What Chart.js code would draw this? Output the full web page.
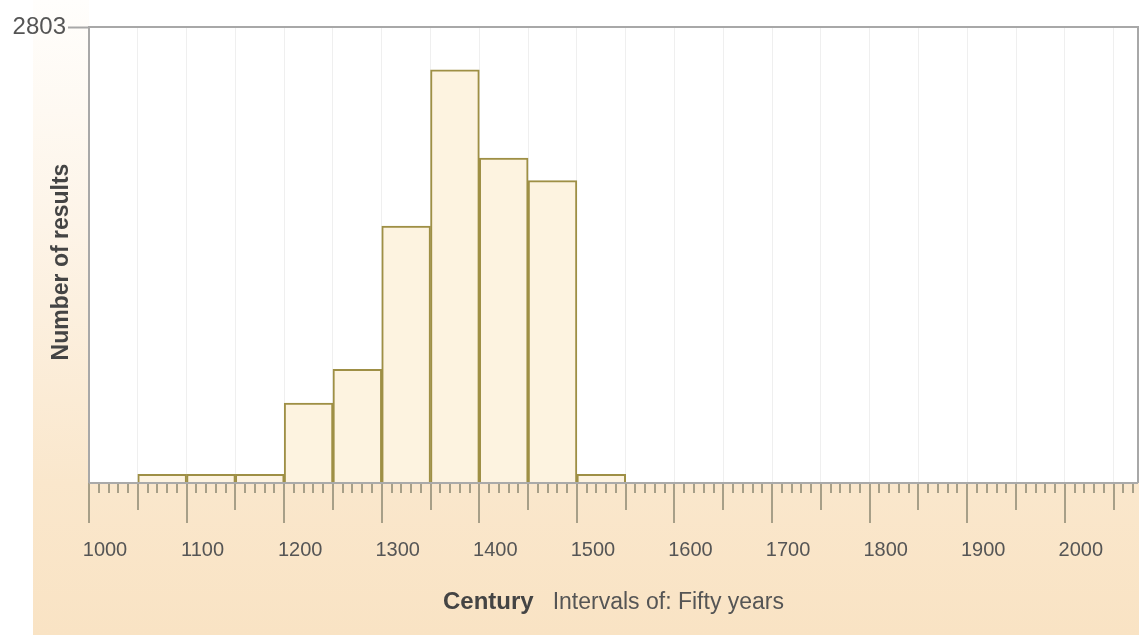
<!DOCTYPE html>
<html>
<head>
<meta charset="utf-8">
<script src="https://cdn.jsdelivr.net/npm/chart.js@4"></script>
<style>
  html,body{margin:0;padding:0;background:#fff;}
  #wrap{width:1139px;height:635px;position:relative;}
</style>
</head>
<body>
<div id="wrap"><canvas id="c" width="1139" height="635"></canvas></div>
<script>
// ---- data ----
const binStarts = [1050, 1100, 1150, 1200, 1250, 1300, 1350, 1400, 1450, 1500];
const binWidth = 50;
const counts = [53, 53, 53, 492, 698, 1580, 2540, 1997, 1859, 53];
const yMax = 2803;
const xMin = 1000;
const xMax = 2075;
const xTitleBold = 'Century';
const xTitleRest = 'Intervals of: Fifty years';
const yTitle = 'Number of results';

const FONT = '"Liberation Sans", Arial, sans-serif';
const points = binStarts.map((s, i) => ({ x: s + binWidth / 2, y: counts[i] }));

const decor = {
  id: 'decor',
  beforeDraw(chart) {
    const ctx = chart.ctx, a = chart.chartArea;
    ctx.save();
    ctx.fillStyle = '#ffffff';
    ctx.fillRect(0, 0, chart.width, chart.height);
    const g = ctx.createLinearGradient(0, 0, 0, chart.height);
    g.addColorStop(0, '#fffefc');
    g.addColorStop(0.35, '#fdf4e8');
    g.addColorStop(0.76, '#fae7cc');
    g.addColorStop(1, '#f9e3c4');
    ctx.fillStyle = g;
    ctx.fillRect(33, 0, a.left - 33, a.bottom);
    ctx.fillRect(33, a.bottom, chart.width - 33, chart.height - a.bottom);
    ctx.fillStyle = '#ffffff';
    ctx.fillRect(a.left, a.top, a.right - a.left, a.bottom - a.top);
    ctx.restore();
  },
  afterDraw(chart) {
    const ctx = chart.ctx, a = chart.chartArea, xs = chart.scales.x;
    ctx.save();
    // top and right border
    ctx.strokeStyle = '#a8a8a8';
    ctx.lineWidth = 2;
    ctx.beginPath();
    ctx.moveTo(a.left, a.top);
    ctx.lineTo(a.right, a.top);
    ctx.lineTo(a.right, a.bottom);
    ctx.stroke();
    // x tick marks (10 / 50 / 100 years)
    ctx.strokeStyle = '#a79f88';
    ctx.lineWidth = 2;
    for (let v = xMin; v < xMax; v += 10) {
      const px = Math.round(xs.getPixelForValue(v));
      let len = 10;
      if (v % 100 === 0) len = 40;
      else if (v % 50 === 0) len = 27;
      ctx.beginPath();
      ctx.moveTo(px, a.bottom);
      ctx.lineTo(px, a.bottom + len);
      ctx.stroke();
    }
    // baseline
    ctx.strokeStyle = '#aaaaaa';
    ctx.beginPath();
    ctx.moveTo(a.left, a.bottom);
    ctx.lineTo(a.right, a.bottom);
    ctx.stroke();
    // x title
    ctx.fillStyle = '#444';
    ctx.textBaseline = 'alphabetic';
    ctx.font = 'bold 24px ' + FONT;
    const w1 = ctx.measureText(xTitleBold).width;
    ctx.font = '23px ' + FONT;
    const w2 = ctx.measureText(xTitleRest).width;
    const gap = 19;
    const start = (a.left + a.right) / 2 - (w1 + gap + w2) / 2;
    ctx.font = 'bold 24px ' + FONT;
    ctx.textAlign = 'left';
    ctx.fillText(xTitleBold, start, 609);
    ctx.fillStyle = '#555';
    ctx.font = '23px ' + FONT;
    ctx.fillText(xTitleRest, start + w1 + gap, 609);
    // y title
    ctx.translate(62, 262);
    ctx.rotate(-Math.PI / 2);
    ctx.fillStyle = '#444';
    ctx.font = 'bold 23px ' + FONT;
    ctx.textAlign = 'center';
    ctx.textBaseline = 'middle';
    ctx.fillText(yTitle, 0, 0);
    ctx.restore();
  }
};

new Chart(document.getElementById('c'), {
  type: 'bar',
  data: {
    datasets: [{
      data: points,
      backgroundColor: '#fdf3e0',
      borderColor: '#9e8f45',
      borderWidth: 2,
      borderSkipped: 'bottom',
      barPercentage: 1,
      categoryPercentage: 1
    }]
  },
  options: {
    responsive: false,
    animation: false,
    layout: { padding: { top: 27, right: 1, left: 0, bottom: 0 } },
    plugins: { legend: { display: false }, tooltip: { enabled: false } },
    scales: {
      x: {
        type: 'linear',
        offset: false,
        min: xMin,
        max: xMax,
        afterBuildTicks(scale) {
          const t = [];
          for (let v = xMin; v < xMax; v += 50) t.push({ value: v });
          scale.ticks = t;
        },
        afterFit(scale) { scale.height = 152; scale.paddingRight = 0; },
        ticks: {
          autoSkip: false,
          maxRotation: 0,
          minRotation: 0,
          padding: 55,
          labelOffset: 16,
          color: '#555',
          font: { family: FONT, size: 20 },
          callback: (v) => (v % 100 === 0 ? String(v) : '')
        },
        grid: {
          offset: false,
          drawOnChartArea: true,
          drawTicks: false,
          color: '#efefef',
          lineWidth: 1
        },
        border: { display: false }
      },
      y: {
        type: 'linear',
        min: 0,
        max: yMax,
        afterBuildTicks(scale) { scale.ticks = [{ value: yMax }]; },
        afterFit(scale) { scale.width = 89; },
        ticks: {
          padding: 2,
          color: '#555',
          font: { family: FONT, size: 24 },
          callback: (v) => String(v)
        },
        grid: {
          drawOnChartArea: false,
          drawTicks: true,
          tickLength: 21,
          tickColor: '#a8a8a8',
          tickWidth: 2
        },
        border: { display: true, color: '#a8a8a8', width: 2 }
      }
    }
  },
  plugins: [decor]
});
</script>
</body>
</html>
